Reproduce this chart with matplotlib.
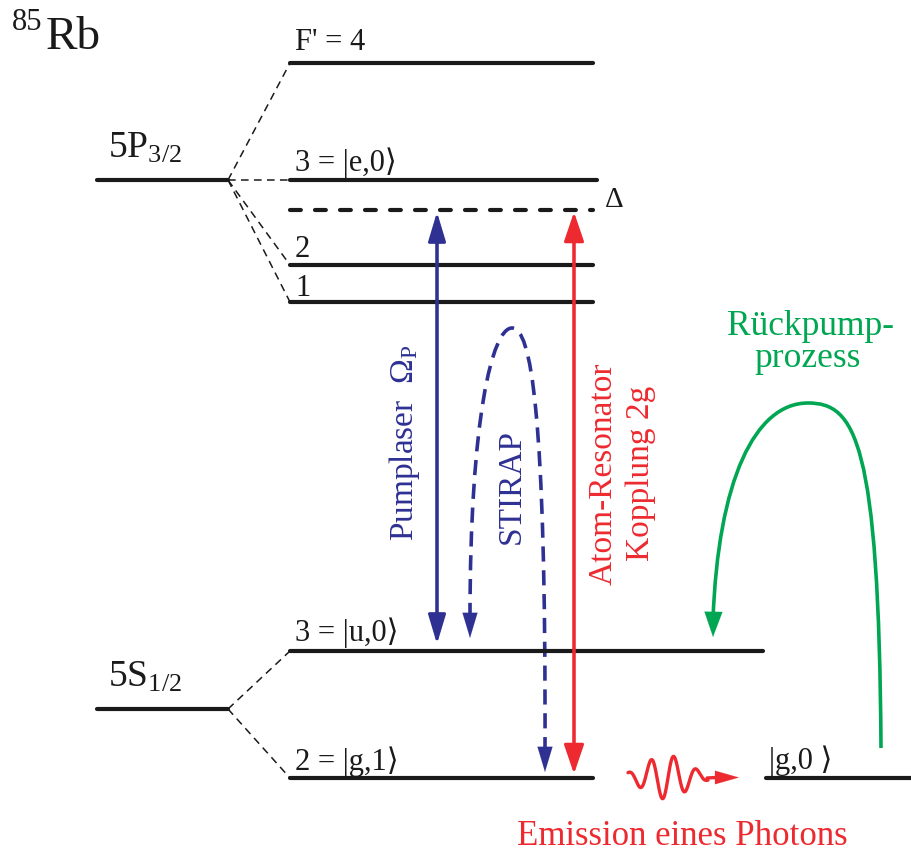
import numpy as np
import matplotlib
matplotlib.use("Agg")
import matplotlib.pyplot as plt
from matplotlib.path import Path
from matplotlib.patches import PathPatch

plt.rcParams["mathtext.fontset"] = "custom"
plt.rcParams["mathtext.rm"] = "Liberation Serif"
plt.rcParams["mathtext.it"] = "Liberation Serif:italic"
plt.rcParams["mathtext.bf"] = "Liberation Serif:bold"

SERIF = ["Liberation Serif", "DejaVu Serif", "DejaVu Sans"]

# ---- level scheme (vertical positions on the diagram canvas) ----
fine_labels = [r"$\mathrm{5P}_{3/2}$", r"$\mathrm{5S}_{1/2}$"]
fine_y = [180, 709]

p_hf_labels = ["F' = 4", "3 = |e,0\u27e9", "2", "1"]
p_hf_y = [63, 180, 265, 302]
p_hf_label_gap = [13, 9, 8, 6]

s_hf_labels = ["3 = |u,0\u27e9", "2 = |g,1\u27e9"]
s_hf_y = [651, 778]
s_hf_right = [763, 593]
s_hf_label_gap = [10, 8]

virtual_y = 210          # detuned virtual level
detuning_label = "\u0394"

cavity_empty_label = "|g,0 \u27e9"
cavity_empty_y = 778

isotope_mass = "85"
element = "Rb"

# horizontal layout of the diagram columns
X_FINE = (97, 228)
X_HF = (290, 593)
X_EMPTY = (766, 911)

BLUE = "#2e3192"
RED = "#ed2a2f"
GREEN = "#00a651"
INK = "#1a1a1a"

fig = plt.figure(figsize=(9.11, 8.55), dpi=100)
ax = fig.add_axes([0, 0, 1, 1])
ax.set_xlim(0, 911)
ax.set_ylim(855, 0)
ax.axis("off")

LEVEL_LW = 3.0


def level(x0, x1, y, **kw):
    ax.plot([x0, x1], [y, y], color=INK, lw=LEVEL_LW,
            solid_capstyle="round", **kw)


def connector(x0, y0, x1, y1):
    ax.plot([x0, x1], [y0, y1], color=INK, lw=1.1,
            linestyle=(0, (5, 3.5)))


def arrow(tail, tip, color, hl=1.0, hw=0.32, scale=18, style="-|>", lw=2.2):
    ax.annotate("", xy=tip, xytext=tail,
                arrowprops=dict(arrowstyle=f"{style},head_length={hl},head_width={hw}",
                                color=color, lw=lw, shrinkA=0, shrinkB=0,
                                mutation_scale=scale))


# fine-structure levels
for lab, y in zip(fine_labels, fine_y):
    level(X_FINE[0], X_FINE[1], y)
    ax.text(X_FINE[0] + 11, y - 22, lab, fontsize=27, family=SERIF,
            ha="left", va="baseline", color=INK)

# 5P3/2 hyperfine levels
for lab, y, gap in zip(p_hf_labels, p_hf_y, p_hf_label_gap):
    right = X_HF[1] + (4 if lab.startswith("3") else 0)
    level(X_HF[0], right, y)
    connector(X_FINE[1], fine_y[0], X_HF[0], y)
    ax.text(X_HF[0] + 5, y - gap, lab, fontsize=22, family=SERIF,
            ha="left", va="baseline", color=INK)

# virtual level with detuning
ax.plot([X_HF[0], X_HF[1]], [virtual_y, virtual_y], color=INK,
        lw=LEVEL_LW, dash_capstyle="round", linestyle=(0, (2.6, 3.4)))
ax.text(605, virtual_y - 3, detuning_label, fontsize=21, family=SERIF,
        ha="left", va="baseline", color=INK)

# 5S1/2 hyperfine levels
for lab, y, xr, gap in zip(s_hf_labels, s_hf_y, s_hf_right, s_hf_label_gap):
    level(X_HF[0], xr, y)
    connector(X_FINE[1], fine_y[1], X_HF[0], y)
    ax.text(X_HF[0] + 5, y - gap, lab, fontsize=22, family=SERIF,
            ha="left", va="baseline", color=INK)

# final state after photon emission
level(X_EMPTY[0], X_EMPTY[1], cavity_empty_y)
ax.text(X_EMPTY[0] + 3, cavity_empty_y - 9, cavity_empty_label, fontsize=22,
        family=SERIF, ha="left", va="baseline", color=INK)

# isotope label
ax.text(12, 30, isotope_mass, fontsize=22, family=SERIF,
        ha="left", va="baseline", color=INK)
ax.text(46, 49, element, fontsize=34, family=SERIF,
        ha="left", va="baseline", color=INK)

# ---- transitions ----
# pump laser (double headed)
x_pump = 437
arrow((x_pump, 630), (x_pump, 212), BLUE, hw=0.3)
arrow((x_pump, 240), (x_pump, 644), BLUE, hw=0.3)
ax.text(404, 443, r"Pumplaser  $\Omega_\mathrm{P}$", rotation=90, color=BLUE,
        fontsize=24, family=SERIF, ha="center", va="center")

# atom-cavity coupling (double headed)
x_cav = 574
arrow((x_cav, 760), (x_cav, 212), RED, hw=0.34)
arrow((x_cav, 240), (x_cav, 774), RED, hw=0.34)
ax.text(603, 474, "Atom-Resonator", rotation=90, color=RED,
        fontsize=24, family=SERIF, ha="center", va="center")
ax.text(641, 473, "Kopplung 2g", rotation=90, color=RED,
        fontsize=24, family=SERIF, ha="center", va="center")

# STIRAP path (dashed loop)
stirap = Path([(470, 618), (470, 420), (492, 328), (512, 328),
               (531, 328), (546, 410), (545, 752)],
              [Path.MOVETO, Path.CURVE4, Path.CURVE4, Path.CURVE4,
               Path.CURVE4, Path.CURVE4, Path.CURVE4])
ax.add_patch(PathPatch(stirap, facecolor="none", edgecolor=BLUE, lw=2.6,
                       linestyle=(0, (4.2, 2.4))))
arrow((470, 612), (470, 638), BLUE, hw=0.3, lw=0.1)
arrow((545, 746), (545, 772), BLUE, hw=0.3, lw=0.1)
ax.text(511, 486, "STIRAP", rotation=90, color=BLUE,
        fontsize=24, family=SERIF, ha="center", va="center")

# repumping loop
repump = Path([(881, 748), (879, 440), (855, 403), (808, 403),
               (755, 403), (718, 480), (713, 620)],
              [Path.MOVETO, Path.CURVE4, Path.CURVE4, Path.CURVE4,
               Path.CURVE4, Path.CURVE4, Path.CURVE4])
ax.add_patch(PathPatch(repump, facecolor="none", edgecolor=GREEN, lw=2.6,
                       capstyle="butt"))
arrow((713.5, 610), (713, 637), GREEN, hw=0.36, lw=0.1)
ax.text(810, 335, "R\u00fcckpump-", color=GREEN, fontsize=25.5, family=SERIF,
        ha="center", va="baseline")
ax.text(808, 367, "prozess", color=GREEN, fontsize=25.5, family=SERIF,
        ha="center", va="baseline")

# emitted photon (wave packet)
xw = np.linspace(628, 708, 300)
yw = 777 + 22 * np.exp(-((xw - 666) / 30) ** 2) * np.cos(2 * np.pi * (xw - 640) / 22.5)
ax.plot(xw, yw, color=RED, lw=2.4, solid_capstyle="round")
ax.plot([707, 716], [778, 777.5], color=RED, lw=2.4, solid_capstyle="round")
arrow((714, 777.5), (739, 777.5), RED, hl=0.95, hw=0.27, scale=18, lw=0.1)
ax.text(682, 845, "Emission eines Photons", color=RED, fontsize=25,
        family=SERIF, ha="center", va="baseline")

fig.savefig("out.png", dpi=100)
